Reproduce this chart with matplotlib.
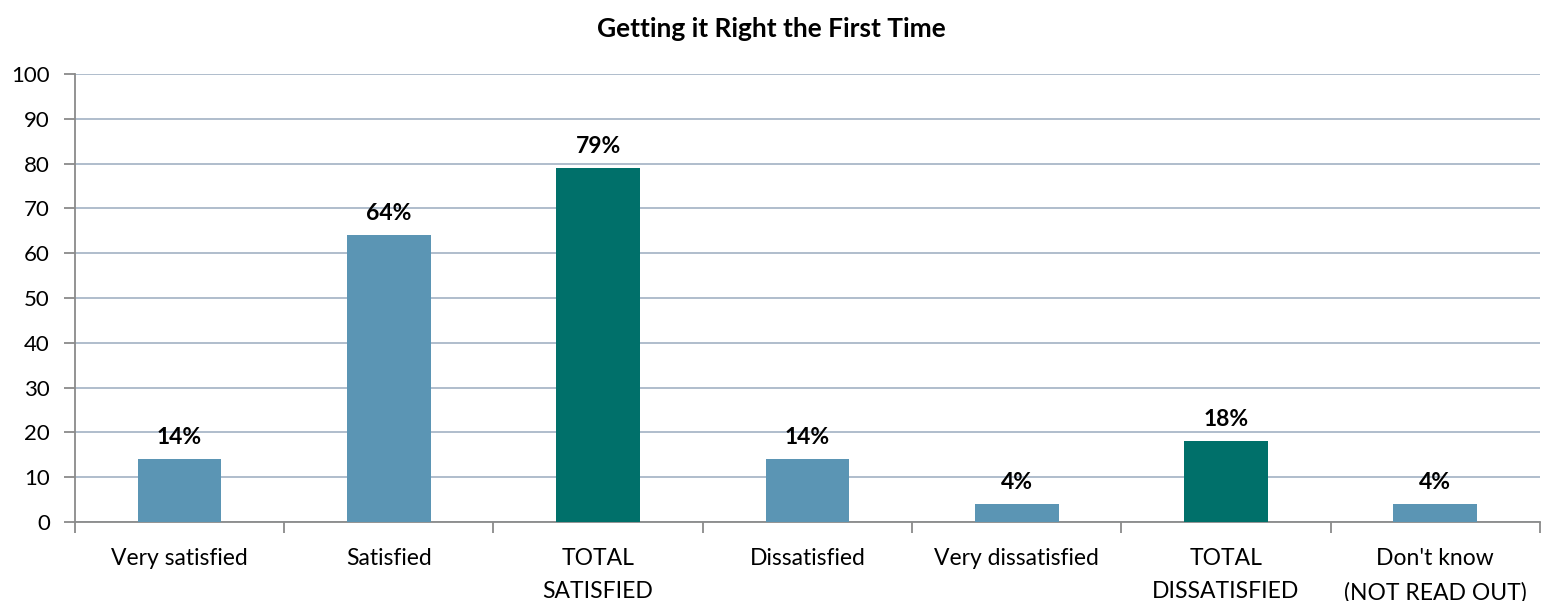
import numpy as np
import matplotlib
matplotlib.use("Agg")
import matplotlib.pyplot as plt

plt.rcParams["font.family"] = ["Lato", "DejaVu Sans"]

categories = ["Very satisfied", "Satisfied", "TOTAL\nSATISFIED", "Dissatisfied",
              "Very dissatisfied", "TOTAL\nDISSATISFIED", "Don't know\n(NOT READ OUT)"]
values = [14, 64, 79, 14, 4, 18, 4]
is_total = [False, False, True, False, False, True, False]

LIGHT = "#5b95b4"
TEAL = "#00706a"
GRID = "#a9b8c8"
AXIS = "#8a8a8a"

fig = plt.figure(figsize=(15.42, 6.01), dpi=100)
ax = fig.add_axes([0.0486, 0.1314, 0.9500, 0.7455])

x = np.arange(len(categories))
colors = [TEAL if t else LIGHT for t in is_total]
ax.bar(x, values, width=0.4, color=colors, zorder=3)

for xi, v in zip(x, values):
    ax.annotate(f"{v}%", (xi, v), xytext=(0, 8), textcoords="offset points",
                ha="center", va="bottom", fontsize=16.5, fontweight="bold", zorder=4)

ax.set_xlim(-0.5, len(categories) - 0.5)
ax.set_ylim(0, 100)
ax.set_yticks(range(0, 101, 10))
ax.yaxis.grid(True, color=GRID, linewidth=1.3, zorder=0)
ax.set_axisbelow(True)

ax.set_xticks(x)
ax.set_xticklabels(categories, fontsize=16.5, linespacing=1.7)
ax.set_xticks(np.arange(-0.5, len(categories), 1.0), minor=True)
ax.tick_params(axis="x", which="major", length=0, pad=19)
ax.tick_params(axis="x", which="minor", length=8, width=1.3, color=AXIS, direction="out")
ax.tick_params(axis="y", length=8, width=1.3, color=AXIS, labelsize=16, pad=10)

for side in ["top", "right"]:
    ax.spines[side].set_visible(False)
for side in ["left", "bottom"]:
    ax.spines[side].set_color(AXIS)
    ax.spines[side].set_linewidth(1.3)

fig.suptitle("Getting it Right the First Time", x=0.5, y=0.972, fontsize=19,
             fontweight="bold")

fig.savefig("out.png", dpi=100)
